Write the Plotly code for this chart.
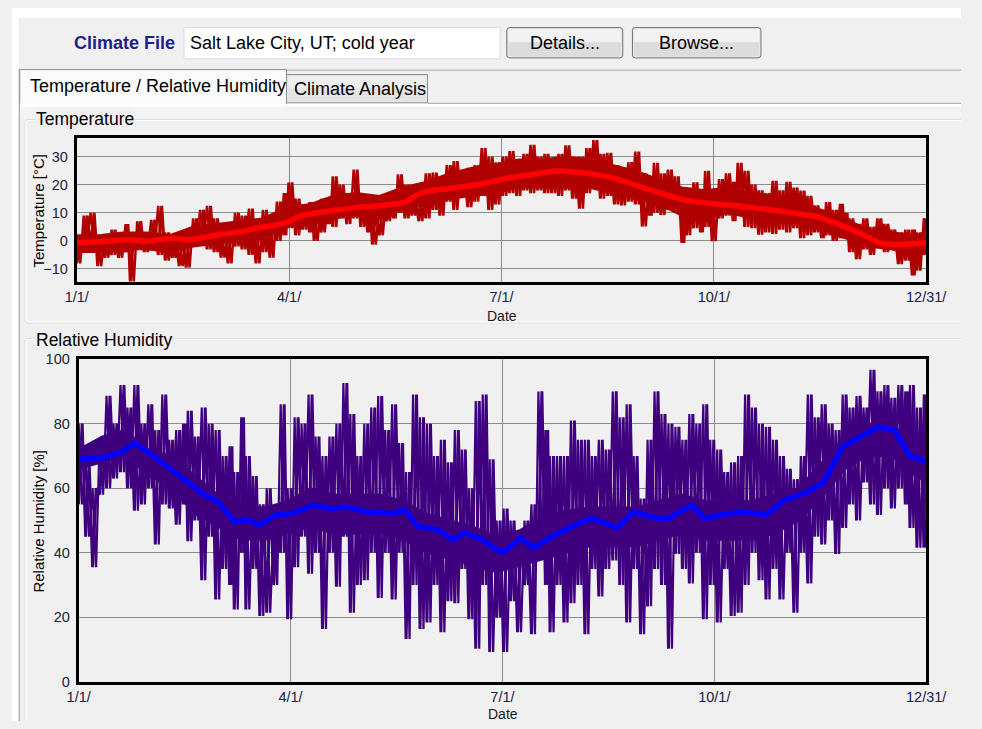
import plotly.graph_objects as go

W, H = 982, 729
FONT = "Liberation Sans, Arial, sans-serif"
BG = "#f0f0f0"

# ---------------- data ----------------
tick_days = [0, 91.25, 182.5, 273.75, 365]
tick_labels = ["1/1/", "4/1/", "7/1/", "10/1/", "12/31/"]
temp_ticks = [-10, 0, 10, 20, 30]
rh_ticks = [0, 20, 40, 60, 80, 100]

temp_days = [0, 3, 6, 9, 12, 15, 18, 21, 23, 26, 29, 32, 35, 38, 41, 44, 47, 50, 53, 56, 59, 62, 65, 68, 71, 74, 77, 80, 83, 86,
             89, 91, 94, 97, 100, 102, 105, 108, 110, 113, 116, 119, 122, 125, 127, 130, 133, 136, 138, 141, 144, 147, 150,
             153, 156, 159, 162, 165, 168, 171, 174, 177, 180, 183, 186, 189, 192, 195, 198, 201, 204, 207, 210, 213, 216,
             219, 222, 225, 228, 231, 234, 237, 240, 243, 246, 248, 251, 254, 257, 260, 262, 265, 268, 270, 273, 276, 279,
             282, 284, 287, 290, 293, 296, 299, 302, 305, 308, 311, 314, 317, 320, 322, 325, 328, 330, 332, 335, 338, 341,
             344, 347, 350, 353, 356, 359, 361, 364]
temp_low = [-8, 1, -2, -9, -6, -5, -6, -4, -14.5, -3, -4, -2.5, -5, -7, -6, -9, -9.5, -2, 0, -3, -4, -6, -8, -2, -3, -5, -8, -4, -6, 0,
            2, 4.5, 2, 4, 3, 0, 3, 6, 5, 8, 6, 8, 5, 3, -1.3, 2, 7, 8, 10, 8, 9, 7, 8,
            11, 9, 14, 11, 16, 12, 14, 16, 11, 13, 16, 17, 16, 18, 17, 18, 17, 17, 16, 18, 15, 11.5,
            17, 19, 15, 16, 13, 12.6, 14, 13, 5.1, 9, 10, 9.2, 11, 10, -0.7, 2, 4.5, 3, 5, -0.1, 8, 9,
            7, 10, 5, 4.5, 2.2, 3, 2.5, 4, 3, 4.5, 1, 2, 3, 1, 2, 0, 1, 1, -4, -6.5, -3, -5,
            -2.5, -4, -3, -8.3, -7, -12.3, -10.6, -5]
temp_high = [0, 9, 10, 1, 2.5, 4, 2, 6, 3, 7, 3, 7.5, 12.5, 3, 2, 1, 2, 8, 11, 12.5, 8, 6, 4, 10, 9, 11.5, 6, 11, 8, 14,
             17, 20.8, 15, 13, 13.8, 10, 15, 14, 23, 20, 17, 25.4, 16, 14, 10, 12, 16, 17, 23.7, 20, 16, 18, 24,
             24.3, 22, 27, 28.4, 25, 26, 27, 33, 30, 28, 30, 32, 29, 31, 34.2, 30, 31, 29, 31, 34, 29, 30,
             33, 35.9, 31, 31.3, 27, 26, 28, 31.8, 24, 22, 27.8, 24, 25.4, 23, 17, 14, 20.8, 16, 24.9, 18, 22, 24,
             21, 27.8, 24.9, 20, 18, 17, 21.4, 18, 21, 19, 17.9, 16, 12.6, 11, 13.8, 11, 13.2, 10, 8, 6, 8, 5,
             8, 6, 4, 3, 4, 4, 3, 8]

core_days = [0, 10, 20, 30, 40, 50, 60, 70, 80, 90, 100, 110, 120, 130, 140, 150, 160, 170, 180, 190, 200, 210, 220,
             230, 240, 250, 260, 270, 280, 290, 300, 310, 320, 330, 340, 350, 360, 365]
temp_core_low = [-4, -4, -3, -3, -4, -2, -1, 0, 1, 5, 6, 8, 9, 8, 11, 13, 15, 16, 17, 19, 19, 19, 19,
                 17, 15, 13, 9, 8, 10, 8, 7, 6, 4, 1, -2, -3, -5, -4]
temp_core_high = [2, 2, 3, 3, 2, 5, 6, 7, 8, 12, 13, 16, 17, 16, 19, 21, 24, 26, 27, 29, 29, 30, 29,
                  27, 25, 22, 19, 18, 19, 17, 16, 14, 11, 8, 4, 3, 2, 3]

temp_smooth_days = [0, 14, 22, 30, 41, 48, 61, 72, 77, 86, 91, 95, 101, 111, 122, 131, 141, 147, 152, 159, 169, 177,
                    183, 196, 206, 217, 230, 241, 252, 262, 274, 288, 299, 310, 318, 328, 338, 345, 352, 365]
temp_smooth = [-0.7, -0.1, 0.4, -0.1, 1, 0.4, 2.2, 3.4, 4.5, 5.7, 6.8, 8.6, 9.7, 10.9, 12.1, 12.6, 13.8, 16.7, 17.9, 18.5,
               19.6, 20.8, 22, 23.7, 24.9, 24.3, 22.5, 19.6, 16.7, 14.4, 13.2, 12.1, 10.9, 9.7, 8.6, 5.7, 2.2, -0.7, -1.3, -0.7]

rh_days = [0, 3, 6, 9, 12, 15, 18, 21, 24, 27, 30, 33, 36, 39, 42, 45, 47, 50, 53, 56, 59, 62, 65, 67, 70, 72, 75, 78, 81, 84,
           87, 90, 93, 96, 99, 102, 105, 108, 111, 114, 117, 120, 123, 126, 129, 132, 135, 138, 141, 144, 147, 150, 153,
           156, 159, 162, 165, 168, 171, 174, 177, 180, 183, 186, 189, 192, 195, 198, 201, 203, 206, 209, 212, 215, 218,
           221, 224, 227, 230, 233, 236, 239, 242, 245, 248, 251, 254, 257, 260, 263, 266, 269, 272, 275, 278, 281, 284,
           287, 290, 293, 296, 299, 302, 305, 308, 311, 314, 317, 320, 323, 326, 329, 332, 335, 338, 341, 344, 347, 350,
           353, 356, 358, 361, 364]
rh_low = [55, 45, 35.5, 58, 60, 63, 65, 60, 53, 55, 60, 42.6, 55, 53.7, 48.7, 55, 43.6, 50, 31.5, 45, 25.5, 35, 30, 22.4, 40,
          22.4, 35, 20.4, 21.4, 30, 40, 19.4, 35.5, 45, 33.5, 40, 16.4, 40, 29.5, 45, 21.4, 30, 31.5, 40, 26, 40, 25.5, 40,
          13.3, 30, 16.4, 18.4, 30, 15.4, 25, 24.4, 35, 19.4, 10.3, 30, 9.3, 20, 9.3, 25, 15.4, 30, 14.8, 40, 30, 15.4, 30,
          18.4, 24.4, 30, 14.8, 35, 26.5, 35, 37.6, 30, 18.4, 35, 14.8, 23.4, 35, 30, 10.3, 39.6, 35, 30.5, 40, 19.4, 30,
          18.4, 35, 20.4, 21.4, 30, 40, 31.5, 25.5, 35, 25.5, 40, 21.4, 40, 30.5, 45, 42.6, 50, 39.6, 47.7, 55, 50, 61.8,
          55, 51.7, 60, 53.7, 60, 55, 47.7, 41.6, 41.6]
rh_high = [80, 68, 60, 75, 88.6, 80, 92, 85, 92, 80, 86, 78, 89, 75, 78, 80, 84, 76, 85, 80, 78, 70, 73, 65, 82, 70, 63.8,
           55, 60, 50, 86, 60, 82, 80, 89, 76, 70, 76, 80, 92.6, 83, 70, 80, 85, 88.6, 78, 86, 74, 65, 89, 82, 80, 70, 75,
           68, 78, 72, 60, 87, 89, 69, 50, 53.7, 50, 45, 50, 55, 90, 78, 70, 70, 70, 81, 75, 75, 70, 75, 72, 90, 82, 86,
           70, 56.8, 75, 90, 83, 80, 79, 75, 83, 80, 86, 75, 72, 65, 68, 70, 89, 85, 80, 79, 75, 70, 66, 62.8, 70, 89, 82,
           86, 80, 78, 89, 85, 88.6, 85, 96.7, 90, 92, 88, 92, 90, 92, 85, 89]

rh_core_low = [66, 68, 70, 64, 60, 52, 48, 44, 44, 46, 48, 46, 46, 46, 44, 40, 38, 36, 34, 36, 38, 40, 42,
               42, 42, 44, 46, 44, 44, 44, 46, 50, 57, 66, 70, 70, 64, 62]
rh_core_high = [72, 76, 78, 72, 70, 64, 58, 54, 54, 56, 60, 58, 58, 58, 56, 52, 50, 48, 45, 47, 51, 53, 54,
                54, 54, 56, 58, 56, 56, 56, 58, 60, 68, 76, 80, 80, 74, 72]

rh_smooth_days = [0, 10, 18, 24, 29.5, 38, 46, 54.5, 60, 67, 72.5, 78, 85, 92, 101, 108.6, 115.5, 124, 135, 140.5, 146,
                  154.4, 161.3, 166.2, 173.8, 178.6, 182.8, 190.4, 196, 204.3, 214, 221, 232, 239, 248.7, 254, 264, 269.5,
                  276.4, 286, 295.8, 304, 313.9, 320.8, 329, 337.4, 344.4, 351.3, 358, 365]
rh_smooth = [69, 69.4, 71, 74, 71.4, 66.9, 62.8, 57.8, 55.8, 49.7, 50.2, 48.7, 51.7, 52.2, 54.7, 53.7, 54.2, 52.7, 52.2,
             53.2, 48.2, 47.2, 44.1, 46.2, 44.1, 41.6, 40.1, 44.6, 41.6, 45.2, 48.7, 50.7, 47.7, 52.7, 50.7, 50.7, 54.7,
             50.7, 51.7, 52.7, 51.7, 56.3, 58.8, 61.8, 72.9, 76, 79, 78, 69.9, 68.4]


def zigzag(days, first, second):
    """Order read values as alternating strokes: first value at the day, second half a step later."""
    xs, ys = [], []
    for i, d in enumerate(days):
        nxt = days[i + 1] if i + 1 < len(days) else 365
        xs += [d, (d + nxt) / 2.0]
        ys += [first[i], second[i]]
    return xs, ys


def band(days, lows, highs):
    return list(days) + list(days[::-1]), list(highs) + list(lows[::-1])


# ---------------- helpers: window pixels -> paper ----------------
def X(px):
    return px / W


def Y(py):
    return 1 - py / H


shapes = []
annotations = []


def rect(x0, y0, x1, y1, fill, line=None, lw=1, layer="below"):
    shapes.append(dict(type="rect", xref="paper", yref="paper", x0=X(x0), x1=X(x1), y0=Y(y1), y1=Y(y0),
                       fillcolor=fill, line=dict(color=line if line else "rgba(0,0,0,0)", width=lw if line else 0),
                       layer=layer))


def hline(x0, x1, y, color, lw=1):
    shapes.append(dict(type="line", xref="paper", yref="paper", x0=X(x0), x1=X(x1), y0=Y(y), y1=Y(y),
                       line=dict(color=color, width=lw), layer="below"))


def vline(x, y0, y1, color, lw=1):
    shapes.append(dict(type="line", xref="paper", yref="paper", x0=X(x), x1=X(x), y0=Y(y0), y1=Y(y1),
                       line=dict(color=color, width=lw), layer="below"))


def rrect(x0, y0, x1, y1, r, fill, line, lw=1):
    p = (f"M {X(x0 + r)},{Y(y0)} L {X(x1 - r)},{Y(y0)} Q {X(x1)},{Y(y0)} {X(x1)},{Y(y0 + r)} "
         f"L {X(x1)},{Y(y1 - r)} Q {X(x1)},{Y(y1)} {X(x1 - r)},{Y(y1)} L {X(x0 + r)},{Y(y1)} "
         f"Q {X(x0)},{Y(y1)} {X(x0)},{Y(y1 - r)} L {X(x0)},{Y(y0 + r)} Q {X(x0)},{Y(y0)} {X(x0 + r)},{Y(y0)} Z")
    shapes.append(dict(type="path", xref="paper", yref="paper", path=p, fillcolor=fill,
                       line=dict(color=line, width=lw), layer="below"))


def groupbox(x0, y0, y1, r, color):
    """Open group-box outline running off the right edge (and bottom, if y1 is None)."""
    p = f"M {X(W)},{Y(y0)} L {X(x0 + r)},{Y(y0)} Q {X(x0)},{Y(y0)} {X(x0)},{Y(y0 + r)} "
    if y1 is None:
        p += f"L {X(x0)},{Y(H)}"
    else:
        p += f"L {X(x0)},{Y(y1 - r)} Q {X(x0)},{Y(y1)} {X(x0 + r)},{Y(y1)} L {X(W)},{Y(y1)}"
    shapes.append(dict(type="path", xref="paper", yref="paper", path=p, line=dict(color=color, width=1),
                       layer="below"))


def text(x, y, s, size=18, color="#000000", xanchor="left", bold=False, angle=0, bg=None):
    annotations.append(dict(x=X(x), y=Y(y), xref="paper", yref="paper", text=f"<b>{s}</b>" if bold else s,
                            showarrow=False, xanchor=xanchor, yanchor="middle", textangle=angle,
                            font=dict(family=FONT, size=size, color=color),
                            bgcolor=bg if bg else "rgba(0,0,0,0)", borderpad=0))


# ---------------- UI chrome ----------------
rect(0, 0, W, 10, "#ffffff")
rect(0, 0, 7, H, "#ffffff")
rect(178, 20, 505, 52, "#ffffff", "#d8dde6", 1)
rrect(512, 20, 632, 51, 3, "#e6e6e6", "#707070", 1)
rect(514, 22, 630, 35, "#f2f2f2")
rect(514, 35, 630, 49, "#dcdcdc")
rrect(642, 20, 775, 51, 3, "#e6e6e6", "#707070", 1)
rect(644, 22, 773, 35, "#f2f2f2")
rect(644, 35, 773, 49, "#dcdcdc")
hline(7, W, 63.5, "#a8a8a8", 1)
hline(430, W, 97.5, "#8e8e8e", 1)
rect(284, 68, 430, 97, "#e4e4e4", "#8e8e8e", 1)
rect(286, 70, 428, 82, "#efefef")
rect(8, 63, 284, 101, "#fbfbfb", "#8e8e8e", 1)
rect(9, 96, 283, 102, "#fbfbfb")
rect(8, 98, W, 101, "#ffffff")
rect(8, 101, W, 113, "#f4f4f4")
vline(7.5, 63, H, "#9a9a9a", 1)
groupbox(13.5, 114, 322, 3, "#d5dfe5")
groupbox(14.5, 115, 321, 3, "#ffffff")
groupbox(13.5, 338, None, 3, "#d5dfe5")
groupbox(14.5, 339, None, 3, "#ffffff")

text(63, 36, "Climate File", 18, "#1e1e8c", bold=True)
text(183, 36, "Salt Lake City, UT; cold year", 18)
text(572, 36, "Details...", 18, xanchor="center")
text(708.5, 36, "Browse...", 18, xanchor="center")
text(18, 80, "Temperature / Relative Humidity", 18)
text(291, 83, "Climate Analysis", 18)
text(24, 114, "Temperature", 17.5, bg=BG)
text(24, 339, "Relative Humidity", 17.5, bg=BG)

text(27, 207, "Temperature [°C]", 15, angle=-90, xanchor="center")
text(27, 525, "Relative Humidity [%]", 15, angle=-90, xanchor="center")
text(507, 315, "Date", 14, "#1a1a1a", xanchor="center")
text(508, 722, "Date", 14, "#1a1a1a", xanchor="center")

# ---------------- traces ----------------
T_RAW, T_SM = "#b00000", "#ff0000"
R_RAW, R_SM = "#3f007f", "#0000ff"

fig = go.Figure()
bx, by = band(core_days, temp_core_low, temp_core_high)
fig.add_trace(go.Scatter(x=bx, y=by, mode="lines", fill="toself", fillcolor=T_RAW, line=dict(color=T_RAW, width=2),
                         xaxis="x", yaxis="y", hoverinfo="skip"))
tx, ty = zigzag(temp_days, temp_low, temp_high)
fig.add_trace(go.Scatter(x=tx, y=ty, mode="lines", line=dict(color=T_RAW, width=3), xaxis="x", yaxis="y",
                         hoverinfo="skip"))
tx2, ty2 = zigzag(temp_days, temp_high, temp_low)
fig.add_trace(go.Scatter(x=tx2, y=ty2, mode="lines", line=dict(color=T_RAW, width=2.5), xaxis="x", yaxis="y",
                         hoverinfo="skip"))
fig.add_trace(go.Scatter(x=temp_smooth_days, y=temp_smooth, mode="lines", line=dict(color=T_SM, width=5.5,
                         shape="spline", smoothing=0.6), xaxis="x", yaxis="y", hoverinfo="skip"))

bx, by = band(core_days, rh_core_low, rh_core_high)
fig.add_trace(go.Scatter(x=bx, y=by, mode="lines", fill="toself", fillcolor=R_RAW, line=dict(color=R_RAW, width=2),
                         xaxis="x2", yaxis="y2", hoverinfo="skip"))
rx, ry = zigzag(rh_days, rh_low, rh_high)
fig.add_trace(go.Scatter(x=rx, y=ry, mode="lines", line=dict(color=R_RAW, width=3), xaxis="x2", yaxis="y2",
                         hoverinfo="skip"))
rx2, ry2 = zigzag(rh_days, rh_high, rh_low)
fig.add_trace(go.Scatter(x=rx2, y=ry2, mode="lines", line=dict(color=R_RAW, width=2.2), xaxis="x2", yaxis="y2",
                         hoverinfo="skip"))
fig.add_trace(go.Scatter(x=rh_smooth_days, y=rh_smooth, mode="lines", line=dict(color=R_SM, width=5.5),
                         xaxis="x2", yaxis="y2", hoverinfo="skip"))

tickfont = dict(family=FONT, size=14.5, color="#202040")
common_x = dict(range=[0, 365], tickvals=tick_days, ticktext=tick_labels, showgrid=True, gridcolor="#8c8c8c",
                gridwidth=1.3, showline=True, mirror=True, linecolor="#000000", linewidth=3, ticks="",
                zeroline=False, tickfont=tickfont, ticklabelstandoff=0)
common_y = dict(showgrid=True, gridcolor="#8c8c8c", gridwidth=1.3, showline=True, mirror=True, linecolor="#000000",
                linewidth=3, ticks="", zeroline=False, tickfont=tickfont, ticklabelstandoff=3)

fig.update_layout(
    width=W, height=H, margin=dict(l=0, r=0, t=0, b=0),
    paper_bgcolor=BG, plot_bgcolor=BG, showlegend=False,
    xaxis=dict(domain=[X(67), X(946)], anchor="y", **common_x),
    yaxis=dict(domain=[Y(280), Y(133)], anchor="x", range=[-14.6, 36.6], tickvals=temp_ticks, **common_y),
    xaxis2=dict(domain=[X(69), X(946)], anchor="y2", **common_x),
    yaxis2=dict(domain=[Y(689), Y(359)], anchor="x2", range=[0, 100], tickvals=rh_ticks, **common_y),
    shapes=shapes, annotations=annotations,
)

fig.write_html("out.html")
